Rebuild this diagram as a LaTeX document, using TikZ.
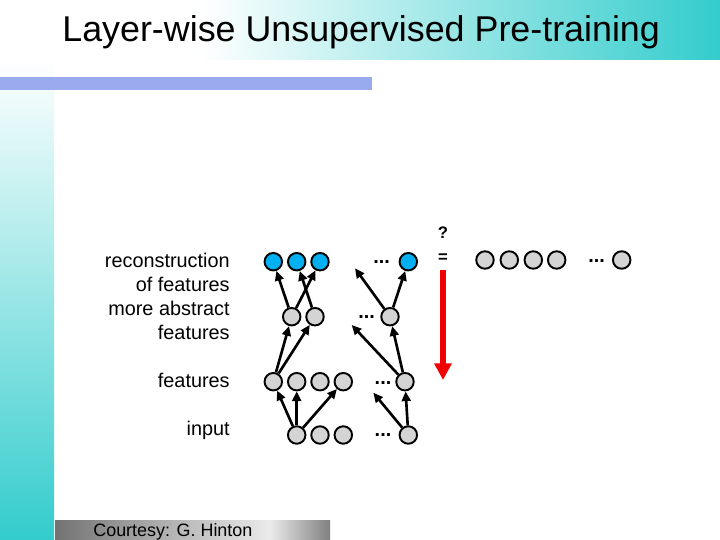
\documentclass[tikz,border=0pt]{standalone}
\usepackage{fontspec}
\setmainfont{Liberation Sans}
\usetikzlibrary{arrows.meta}
\definecolor{slTeal}{RGB}{51,204,204}
\definecolor{slBar}{RGB}{153,170,238}
\definecolor{unitB}{RGB}{0,176,240}
\definecolor{unitG}{RGB}{212,212,212}
\definecolor{arrR}{RGB}{240,0,0}

\begin{document}
\begin{tikzpicture}[x=0.02cm,y=-0.02cm,
  unit/.style={circle,draw,line width=1.1pt,fill=unitG,minimum size=0.35cm,inner sep=0pt},
  vis/.style={unit,fill=unitB},
  dots/.style={anchor=base,font=\bfseries\fontsize{11.3}{13}\selectfont,inner sep=0pt},
  lbl/.style={anchor=base east,font=\fontsize{11.3}{13}\selectfont,inner sep=0pt},
  up/.style={-{Triangle[length=5.5pt,width=5pt]},line width=1.5pt}]
\useasboundingbox (0,0) rectangle (720,540);
% slide background
\shade[left color=white,right color=slTeal] (200,0) rectangle (720,60);
\shade[top color=white,bottom color=slTeal] (0,60) rectangle (54,540);
\fill[slBar] (0,77) rectangle (372,90);
\shade[left color=black!55,right color=black!8] (55,520) rectangle (270,540);
\shade[left color=black!8,right color=black!50] (270,520) rectangle (330,540);
\node[anchor=base west,font=\fontsize{20.4}{24}\selectfont,inner sep=0pt] (title) at (62,42) {Layer-wise Unsupervised Pre-training};
\node[anchor=base west,font=\fontsize{10.2}{12}\selectfont,inner sep=0pt] (credit) at (93,536) {Courtesy: G. Hinton};
% labels
\node[lbl] (lrec) at (230,268) {reconstruction};
\node[lbl] (lof) at (230,292) {of features};
\node[lbl] (lmore) at (230,316) {more abstract};
\node[lbl] (labs) at (230,340) {features};
\node[lbl] (lfeat) at (230,388) {features};
\node[lbl] (linp) at (230,436) {input};
% units
\node[vis] (rec1) at (273.3,261.7) {};
\node[vis] (rec2) at (296.7,261.7) {};
\node[vis] (rec3) at (320,261.7) {};
\node[vis] (recn) at (408.3,261.7) {};
\node[dots] (recd) at (381.7,264) {...};
\node[unit] (abs1) at (291.7,316.7) {};
\node[unit] (abs2) at (315,316.7) {};
\node[unit] (absn) at (390,316.7) {};
\node[dots] (absd) at (366.7,319) {...};
\node[unit] (feat1) at (273.3,381.7) {};
\node[unit] (feat2) at (296.7,381.7) {};
\node[unit] (feat3) at (320,381.7) {};
\node[unit] (feat4) at (343.3,381.7) {};
\node[unit] (featn) at (405,381.7) {};
\node[dots] (featd) at (383,384) {...};
\node[unit] (inp1) at (296.7,435) {};
\node[unit] (inp2) at (320,435) {};
\node[unit] (inp3) at (343.3,435) {};
\node[unit] (inpn) at (408.3,435) {};
\node[dots] (inpd) at (383,437) {...};
\node[unit] (q1) at (485,260) {};
\node[unit] (q2) at (509.3,260) {};
\node[unit] (q3) at (533.3,260) {};
\node[unit] (q4) at (556.7,260) {};
\node[unit] (qn) at (621.7,260) {};
\node[dots] (qd) at (596.7,263) {...};
\node[font=\bfseries\fontsize{9.5}{11}\selectfont,inner sep=0pt] (quest) at (443,233) {?};
\node[font=\bfseries\fontsize{9.5}{11}\selectfont,inner sep=0pt] (eq) at (443,258) {=};
% free ends
\coordinate (fi) at (373.3,392.7);
\coordinate (fh) at (351.7,325);
\coordinate (fr) at (355,268.3);
\coordinate (rtop) at (443,270);
\coordinate (rtip) at (443,380);
% connections
\draw[up] (inp1) -- (feat1);
\draw[up] (inp1) -- (feat2);
\draw[up] (inp1) -- (feat4);
\draw[up] (inpn) -- (featn);
\draw[up] (inpn) -- (fi);
\draw[up] (feat1) -- (abs1);
\draw[up] (feat1) -- (abs2);
\draw[up] (featn) -- (absn);
\draw[up] (featn) -- (fh);
\draw[up] (abs1) -- (rec1);
\draw[up] (abs1) -- (rec3);
\draw[up] (abs2) -- (rec2);
\draw[up] (absn) -- (recn);
\draw[up] (absn) -- (fr);
\draw[arrR,line width=3pt,-{Triangle[length=9.5pt,width=9.5pt]}] (rtop) -- (rtip);
\end{tikzpicture}
\end{document}
